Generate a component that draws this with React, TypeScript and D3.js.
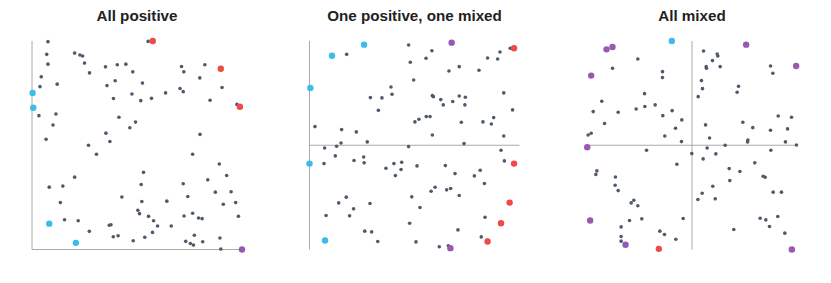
import React from "react";
import * as d3 from "d3";

type Pt = [number, number];

const titles = ["All positive", "One positive, one mixed", "All mixed"];

// panel 1: x in [0,1], y in [0,1]
const positiveGray: Pt[] = [
  [0.076, 0.997], [0.553, 0.998], [0.07, 0.936], [0.203, 0.942], [0.228, 0.933], [0.241, 0.928],
  [0.076, 0.889], [0.25, 0.894], [0.35, 0.876], [0.406, 0.886], [0.447, 0.889], [0.274, 0.847],
  [0.48, 0.852], [0.712, 0.878], [0.823, 0.886], [0.723, 0.852], [0.044, 0.828], [0.038, 0.781],
  [0.12, 0.793], [0.396, 0.809], [0.357, 0.786], [0.526, 0.798], [0.799, 0.823], [0.705, 0.772],
  [0.72, 0.757], [0.905, 0.777], [0.476, 0.746], [0.636, 0.751], [0.388, 0.724], [0.518, 0.714],
  [0.569, 0.725], [0.848, 0.716], [0.976, 0.696], [0.033, 0.642], [0.114, 0.65], [0.414, 0.634],
  [0.1, 0.597], [0.493, 0.611], [0.466, 0.584], [0.067, 0.529], [0.352, 0.558], [0.371, 0.518],
  [0.8, 0.552], [0.269, 0.5], [0.307, 0.457], [0.765, 0.457], [0.892, 0.41], [0.203, 0.347],
  [0.531, 0.37], [0.927, 0.355], [0.082, 0.299], [0.147, 0.304], [0.52, 0.312], [0.72, 0.315],
  [0.837, 0.334], [0.873, 0.275], [0.948, 0.277], [0.428, 0.252], [0.742, 0.254], [0.135, 0.225],
  [0.523, 0.23], [0.642, 0.232], [0.911, 0.217], [0.97, 0.225], [0.504, 0.188], [0.512, 0.172],
  [0.555, 0.159], [0.724, 0.161], [0.765, 0.174], [0.793, 0.151], [0.81, 0.148], [0.983, 0.159],
  [0.155, 0.143], [0.22, 0.138], [0.579, 0.138], [0.598, 0.113], [0.663, 0.113], [0.368, 0.116],
  [0.376, 0.119], [0.273, 0.087], [0.387, 0.061], [0.41, 0.066], [0.574, 0.082], [0.773, 0.068],
  [0.482, 0.042], [0.537, 0.059], [0.732, 0.039], [0.754, 0.029], [0.769, 0.021], [0.813, 0.037],
  [0.895, 0.055], [0.899, 0.002],
];
const positiveRed: Pt[] = [[0.575, 1.0], [0.899, 0.867], [0.99, 0.685]];
const positiveBlue: Pt[] = [[0.003, 0.751], [0.006, 0.68], [0.082, 0.124], [0.209, 0.032]];
const positivePurple: Pt[] = [[1.0, 0.0]];

// panel 2: x in [0,1], y in [-1,1]
const halfGray: Pt[] = [
  [0.177, 0.872], [0.472, 0.962], [0.583, 0.907], [0.48, 0.796], [0.555, 0.834], [0.664, 0.712],
  [0.713, 0.754], [0.807, 0.719], [0.848, 0.837], [0.896, 0.827], [0.907, 0.895], [0.956, 0.93],
  [0.496, 0.626], [0.388, 0.559], [0.393, 0.489], [0.29, 0.457], [0.345, 0.454], [0.328, 0.335],
  [0.585, 0.476], [0.59, 0.466], [0.625, 0.438], [0.637, 0.387], [0.682, 0.419], [0.713, 0.473],
  [0.742, 0.46], [0.74, 0.387], [0.925, 0.502], [0.967, 0.339], [0.502, 0.224], [0.521, 0.249],
  [0.556, 0.275], [0.574, 0.275], [0.723, 0.22], [0.826, 0.224], [0.866, 0.204], [0.877, 0.265],
  [0.026, 0.179], [0.153, 0.15], [0.223, 0.128], [0.275, 0.032], [0.15, 0.022], [0.585, 0.099],
  [0.736, 0.016], [0.925, 0.089], [0.072, -0.026], [0.129, -0.01], [0.472, -0.013], [0.912, -0.048],
  [0.123, -0.102], [0.258, -0.112], [0.069, -0.176], [0.212, -0.147], [0.26, -0.169], [0.402, -0.176],
  [0.439, -0.163], [0.364, -0.22], [0.436, -0.233], [0.409, -0.291], [0.512, -0.198], [0.647, -0.195],
  [0.693, -0.272], [0.785, -0.294], [0.813, -0.24], [0.833, -0.367], [0.928, -0.15], [0.579, -0.441],
  [0.598, -0.403], [0.653, -0.428], [0.672, -0.415], [0.713, -0.482], [0.139, -0.553], [0.175, -0.498],
  [0.288, -0.559], [0.487, -0.495], [0.21, -0.61], [0.526, -0.597], [0.079, -0.674], [0.191, -0.677],
  [0.477, -0.748], [0.836, -0.69], [0.263, -0.824], [0.296, -0.831], [0.707, -0.812], [0.325, -0.923],
  [0.507, -0.927], [0.618, -0.974], [0.661, -0.965], [0.818, -0.879],
];
const halfBlue: Pt[] = [[0.26, 0.965], [0.107, 0.859], [0.004, 0.55], [0.0, -0.176], [0.074, -0.914]];
const halfPurple: Pt[] = [[0.677, 0.984], [0.671, -0.987]];
const halfRed: Pt[] = [[0.974, 0.93], [0.974, -0.176], [0.953, -0.55], [0.912, -0.748], [0.848, -0.923]];

// panel 3: x in [-1,1], y in [-1,1]
const mixedGray: Pt[] = [
  [-0.516, 0.827], [-0.757, 0.738], [-0.281, 0.706], [-0.281, 0.649], [-0.452, 0.495], [-0.859, 0.422],
  [-0.941, 0.323], [-0.703, 0.316], [-0.532, 0.348], [-0.449, 0.371], [-0.351, 0.387], [-0.278, 0.284],
  [-0.189, 0.332], [-0.097, 0.243], [-0.833, 0.208], [-0.157, 0.163], [-0.259, 0.089], [-0.96, 0.115],
  [-0.989, 0.099], [-0.1, 0.035], [-0.433, -0.048], [-0.144, -0.182], [-0.906, -0.246], [-0.916, -0.281],
  [-0.729, -0.304], [-0.732, -0.383], [-0.703, -0.435], [-0.554, -0.527], [-0.579, -0.553], [-0.516, -0.581],
  [-0.478, -0.706], [-0.595, -0.722], [-0.675, -0.783], [-0.084, -0.703], [-0.306, -0.824], [-0.262, -0.856],
  [-0.675, -0.875], [-0.675, -0.92], [-0.154, -0.901],
  [0.11, 0.904], [0.24, 0.875], [0.246, 0.856], [0.195, 0.812], [0.135, 0.754], [0.138, 0.738],
  [0.268, 0.754], [0.748, 0.76], [0.77, 0.69], [0.09, 0.62], [0.1, 0.543], [0.059, 0.466],
  [0.443, 0.565], [0.43, 0.508], [0.821, 0.281], [0.948, 0.268], [0.129, 0.195], [0.484, 0.22],
  [0.579, 0.169], [0.748, 0.144], [0.91, 0.157], [0.167, 0.07], [0.532, 0.051], [0.529, 0.032],
  [0.89, 0.032], [0.316, 0.0], [0.995, 0.003], [0.144, -0.026], [-0.002, -0.08], [0.106, -0.131],
  [0.227, -0.083], [0.751, -0.048], [0.598, -0.169], [0.354, -0.224], [0.456, -0.252], [0.678, -0.297],
  [0.697, -0.307], [0.36, -0.339], [0.198, -0.393], [0.097, -0.46], [0.056, -0.521], [0.221, -0.514],
  [0.773, -0.45], [0.852, -0.45], [0.649, -0.7], [0.703, -0.716], [0.817, -0.684], [0.738, -0.78],
  [0.398, -0.808], [0.884, -0.843],
];
const mixedBlue: Pt[] = [[-0.192, 1.0]];
const mixedRed: Pt[] = [[-0.316, -0.994]];
const mixedPurple: Pt[] = [
  [-0.814, 0.92], [-0.757, 0.942], [-0.96, 0.668], [-0.998, -0.019], [-0.97, -0.722],
  [-0.633, -0.955], [0.516, 0.965], [0.992, 0.76], [0.951, -1.0],
];

const GRAY = "#4d5a69";
const BLUE = "#3dbce8";
const RED = "#ee4b48";
const PURPLE = "#9a58b0";

const panels = [
  { title: titles[0], xDomain: [0, 1], yDomain: [0, 1], gray: positiveGray, blue: positiveBlue, red: positiveRed, purple: positivePurple },
  { title: titles[1], xDomain: [0, 1], yDomain: [-1, 1], gray: halfGray, blue: halfBlue, red: halfRed, purple: halfPurple },
  { title: titles[2], xDomain: [-1, 1], yDomain: [-1, 1], gray: mixedGray, blue: mixedBlue, red: mixedRed, purple: mixedPurple },
];

const panelStep = 277.5;
const margin = { left: 24, top: 33 };
const plotW = 210;
const plotH = 208.5;

function Panel({ p, idx }: { p: any; idx: number }) {
  const x = d3.scaleLinear().domain(p.xDomain).range([0, plotW]);
  const y = d3.scaleLinear().domain(p.yDomain).range([plotH, 0]);
  const x0 = x(Math.max(p.xDomain[0], 0));
  const y0 = y(Math.max(p.yDomain[0], 0));
  const big = (pts: Pt[], color: string) =>
    pts.map((d, i) => <circle key={color + i} cx={x(d[0])} cy={y(d[1])} r={3.2} fill={color} />);

  return (
    <g transform={`translate(${margin.left + idx * panelStep},${margin.top})`}>
      <text x={plotW / 2} y={-20.5} textAnchor="middle" fontFamily="Liberation Sans, Arial, sans-serif"
        fontWeight="bold" fontSize={15.2} fill="#222">{p.title}</text>
      <line x1={x0} x2={x0} y1={0} y2={plotH} stroke="#aaa" strokeWidth={1} />
      <line x1={0} x2={plotW} y1={y0} y2={y0} stroke="#aaa" strokeWidth={1} />
      {p.gray.map((d: Pt, i: number) => (
        <circle key={i} cx={x(d[0])} cy={y(d[1])} r={1.8} fill={GRAY} />
      ))}
      {big(p.blue, BLUE)}
      {big(p.red, RED)}
      {big(p.purple, PURPLE)}
    </g>
  );
}

export default function App() {
  return (
    <svg width={815} height={267} style={{ display: "block" }}>
      {panels.map((p, i) => <Panel key={i} p={p} idx={i} />)}
    </svg>
  );
}
